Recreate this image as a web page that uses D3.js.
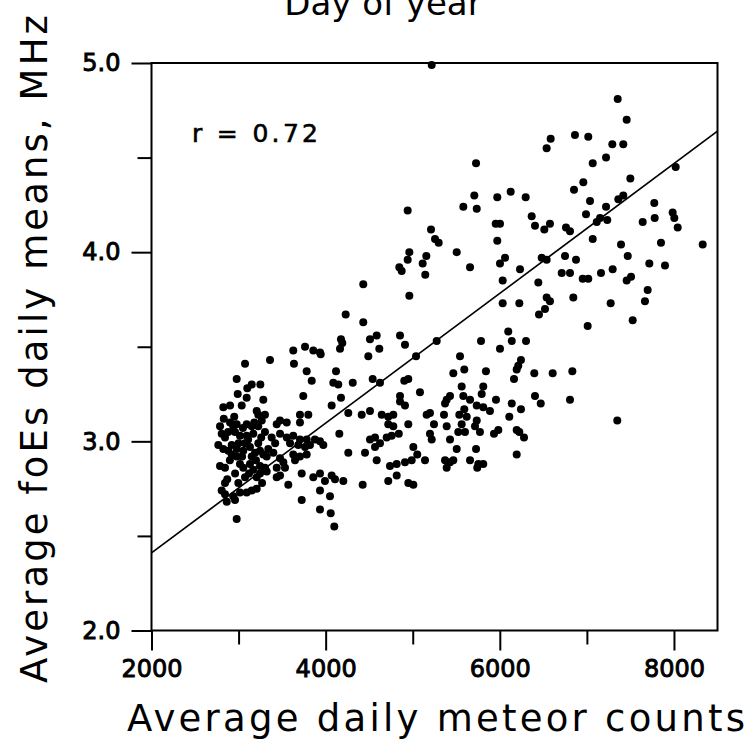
<!DOCTYPE html>
<html><head><meta charset="utf-8">
<script src="https://cdn.jsdelivr.net/npm/d3@7"></script>
<style>body{margin:0;background:#fff}</style>
</head><body>
<script>
// ---- data ----
const countsUpper = [5218,4942,5210,5256,5298,4961,4942,5156,5114,4846,4873,5144,4432,4961];
const foEsUpper   = [4.99,4.22,4.12,4.07,4.05,4.00,3.96,3.98,3.94,3.92,3.90,3.88,3.83,3.77];

const countsHigh = [7354,7457,6584,6538,6863,7016,7292,7418,7220,7067,
  5727,7499,6959,6852,8020,5707,5735,5581,5971,6125,
  6297,7036,7361,7418,7220,7774,6990,7151,7113,7234,
  7779,7641,7985,8004,8043,5953,6002,6366,6404,6511,
  6576,6760,6806,5971,7067,7392,7469,7851,8330,5505,
  6060,6002,6481,6538,6749,6875,5658,6232,7296,7717,
  7897];
const foEsHigh = [4.81,4.70,4.60,4.55,4.62,4.61,4.57,4.57,4.50,4.47,
  4.47,4.39,4.37,4.33,4.45,4.30,4.23,4.24,4.29,4.32,
  4.29,4.27,4.28,4.30,4.24,4.26,4.20,4.18,4.16,4.17,
  4.18,4.16,4.21,4.18,4.13,4.15,4.15,4.19,4.14,4.12,
  4.15,4.13,4.11,4.06,4.07,4.04,3.98,4.05,4.04,4.00,
  3.97,3.94,3.97,3.96,3.98,3.96,3.92,3.91,3.91,3.94,
  3.93];

const countsRight = [6711,6806,6952,7016,7162,7507,7457,7698,6844,7273,7667,7526,7009,6833,6806,7349];
const foEsRight   = [3.89,3.89,3.86,3.86,3.89,3.87,3.85,3.80,3.76,3.73,3.74,3.64,3.61,3.37,3.22,3.11];

const countsMid = [6033,6442,6538,6576,6519,6450,6033,6224,6097,6137,
  6002,6301,5784,5275,5543,6243,6212,6194,6163,6396,
  6607,5466,5592,5841,5083,5562,5581,5810,5792,5428,
  5390,5371,5658,5592,5956,5735,5810,5887,6137,6404,
  6470,6243,6109,5160,5198,5244,5359,5390,5535,5562,
  5523,5620,5735,5715,5198,5218,5983,5933,6194,6224,
  6278,5505,5727,6194,5141,5371,5428,5466,5390,5658,
  5753,5810,5741,5428,5600,5772];
const foEsMid = [3.85,3.84,3.76,3.74,3.70,3.67,3.73,3.73,3.58,3.53,
  3.49,3.53,3.53,3.53,3.45,3.43,3.40,3.38,3.33,3.36,
  3.36,3.36,3.38,3.37,3.26,3.29,3.24,3.29,3.25,3.24,
  3.22,3.20,3.22,3.17,3.22,3.19,3.18,3.16,3.20,3.24,
  3.20,3.17,3.13,3.14,3.15,3.09,3.14,3.08,3.14,3.09,
  3.05,3.13,3.11,3.08,3.04,3.01,3.06,3.04,3.06,3.05,
  3.02,2.96,2.96,2.93,2.90,2.90,2.89,2.90,2.86,2.90,
  2.88,2.88,2.86,3.01,3.05,3.05];

const countsCentre = [4230,4432,4176,4191,4165,4509,4586,4616,4490,4854,
  4911,5038,3628,3763,3858,3935,3943,3636,3782,3840,
  4119,4088,4145,4311,4540,4624,4949,4903,3743,4176,
  4069,4854,4854,4911,4260,3705,3801,3705,3553,3476,
  4414,4509,4644,4719,4777,4719,4777,4840,4949,3476,
  3553,3628,3705,3782,3877,3591,3686,3763,3820,3935,
  3973,4157,3628,3705,3782,3648,3476,3514,4260,4452,
  4509,4567,4624,4567,4701,4758,4586,4739,4816,4911,
  4988,5007,5052,3533,3476,3725,3858,3935,3992,4069,
  4107,4203,3571,4425,4719,4816,4949,5007,3935,4050,
  3725,3935,4058,4099];
const foEsCentre = [3.67,3.63,3.54,3.52,3.49,3.54,3.56,3.49,3.45,3.56,
  3.51,3.45,3.48,3.50,3.48,3.47,3.46,3.41,3.37,3.32,
  3.37,3.31,3.30,3.31,3.33,3.31,3.33,3.32,3.24,3.23,
  3.19,3.24,3.21,3.19,3.15,3.14,3.14,3.10,3.10,3.11,
  3.14,3.16,3.14,3.13,3.14,3.09,3.08,3.04,3.09,3.04,
  3.02,3.03,3.01,3.01,3.01,2.99,2.98,2.97,2.98,3.00,
  2.98,3.04,2.93,2.92,2.93,2.90,2.91,2.89,2.94,2.94,
  3.01,3.02,2.99,2.97,3.02,3.03,2.90,2.87,2.88,2.89,
  2.90,2.97,2.93,2.86,2.82,2.83,2.81,2.83,2.79,2.82,
  2.80,2.79,2.77,2.77,2.79,2.82,2.78,2.77,2.74,2.71,
  2.69,2.64,2.62,2.55];

const countsLow = [3074,3361,2978,3151,3093,3284,2825,2902,3036,3208,
  3226,3303,2787,2902,2939,2978,3093,3151,3226,3266,
  3438,2806,2844,2959,3016,3093,3169,3303,2767,2825,
  2921,2882,2978,3074,3131,3054,3226,3246,3341,3399,
  2921,2978,3151,3189,3284,3323,2787,2844,3016,3054,
  3131,3169,3246,3303,3323,3438,3438,2844,2997,3074,
  3208,3246,2806,2844,2939,3016,3093,3151,3208,2864,
  2959,2978,
  2830,2880,2950,3000,3050,3110,3180,3260,2900,2960,
  3040,3120,3200,3270,2870,3380,3420,2990,3100,3250];
const foEsLow = [3.41,3.43,3.33,3.30,3.23,3.22,3.18,3.19,3.19,3.16,
  3.14,3.14,3.08,3.10,3.08,3.09,3.09,3.08,3.08,3.11,
  3.09,3.04,3.02,3.05,3.03,3.03,3.04,3.05,2.98,2.96,
  2.98,2.95,2.96,2.99,2.97,2.95,2.99,2.95,2.96,2.94,
  2.93,2.92,2.92,2.94,2.93,2.92,2.87,2.86,2.88,2.86,
  2.88,2.85,2.87,2.86,2.84,2.86,2.81,2.78,2.78,2.81,
  2.81,2.83,2.74,2.72,2.71,2.73,2.73,2.74,2.75,2.68,
  2.69,2.59,
  3.12,3.05,3.13,2.99,3.07,3.01,3.10,3.02,2.90,2.83,
  2.92,2.83,2.90,2.78,2.80,3.02,2.99,3.25,3.28,3.30];

const fitLineX = [2000, 8500];
const fitLineY = [2.41, 4.64];
const xMajorTicks = [2000, 4000, 6000, 8000];
const xMinorTicks = [3000, 5000, 7000];
const yMajorTicks = [2.0, 3.0, 4.0, 5.0];
const yMinorTicks = [2.5, 3.5, 4.5];
const correlationText = "r = 0.72";
const xTitle = "Average daily meteor counts";
const yTitle = "Average foEs daily means, MHz";
const topTitle = "Day of year";

// ---- build ----
const meteorCounts = [].concat(countsUpper, countsHigh, countsRight, countsMid, countsCentre, countsLow);
const foEsMeans = [].concat(foEsUpper, foEsHigh, foEsRight, foEsMid, foEsCentre, foEsLow);
const points = d3.range(Math.min(meteorCounts.length, foEsMeans.length)).map(i => [meteorCounts[i], foEsMeans[i]]);

const W = 753, H = 753;
const m = {l: 151.5, r: 717.5, t: 63, b: 630.5};
const FONT = "DejaVu Sans";
const svg = d3.select("body").append("svg").attr("width", W).attr("height", H);
const x = d3.scaleLinear().domain([2000, 8500]).range([m.l, m.r]);
const y = d3.scaleLinear().domain([2, 5]).range([m.b, m.t]);

// points
svg.append("g").selectAll("circle").data(points).join("circle")
  .attr("cx", d => x(d[0])).attr("cy", d => y(d[1])).attr("r", 4).attr("fill", "#000");

// regression line
svg.append("line")
  .attr("x1", x(fitLineX[0])).attr("y1", y(fitLineY[0]))
  .attr("x2", x(fitLineX[1])).attr("y2", y(fitLineY[1]))
  .attr("stroke", "#000").attr("stroke-width", 1.7);

// frame
svg.append("rect").attr("x", m.l).attr("y", m.t).attr("width", m.r - m.l).attr("height", m.b - m.t)
  .attr("fill", "none").attr("stroke", "#000").attr("stroke-width", 2);

function styleAxis(g) {
  g.select(".domain").remove();
  g.selectAll("line").attr("stroke", "#000").attr("stroke-width", 2);
  g.selectAll("text").attr("font-family", FONT).attr("font-size", 24).attr("fill", "#000")
    .attr("stroke", "#000").attr("stroke-width", 0.9);
}
const gxMinor = svg.append("g").attr("transform", `translate(0,${m.b})`)
  .call(d3.axisBottom(x).tickValues(xMinorTicks).tickSize(14).tickFormat(""));
styleAxis(gxMinor);
const gx = svg.append("g").attr("transform", `translate(0,${m.b})`)
  .call(d3.axisBottom(x).tickValues(xMajorTicks).tickSize(20).tickPadding(9).tickFormat(d3.format("d")));
styleAxis(gx);
const gyMinor = svg.append("g").attr("transform", `translate(${m.l},0)`)
  .call(d3.axisLeft(y).tickValues(yMinorTicks).tickSize(14).tickFormat(""));
styleAxis(gyMinor);
const gy = svg.append("g").attr("transform", `translate(${m.l},0)`)
  .call(d3.axisLeft(y).tickValues(yMajorTicks).tickSize(20).tickPadding(11).tickFormat(d3.format(".1f")));
styleAxis(gy);

// texts
svg.append("text").attr("x", 192).attr("y", 142).attr("font-family", FONT).attr("font-size", 25)
  .attr("stroke", "#000").attr("stroke-width", 0.6)
  .attr("textLength", 126).attr("lengthAdjust", "spacing").text(correlationText);

svg.append("text").attr("x", 436).attr("y", 731).attr("text-anchor", "middle")
  .attr("font-family", FONT).attr("font-size", 37).attr("textLength", 618).attr("lengthAdjust", "spacing")
  .text(xTitle);

svg.append("text").attr("transform", `translate(47,349) rotate(-90)`).attr("text-anchor", "middle")
  .attr("font-family", FONT).attr("font-size", 37).attr("textLength", 668).attr("lengthAdjust", "spacing")
  .text(yTitle);

svg.append("text").attr("x", 383).attr("y", 15).attr("text-anchor", "middle")
  .attr("font-family", FONT).attr("font-size", 34).text(topTitle);
</script>
</body></html>
